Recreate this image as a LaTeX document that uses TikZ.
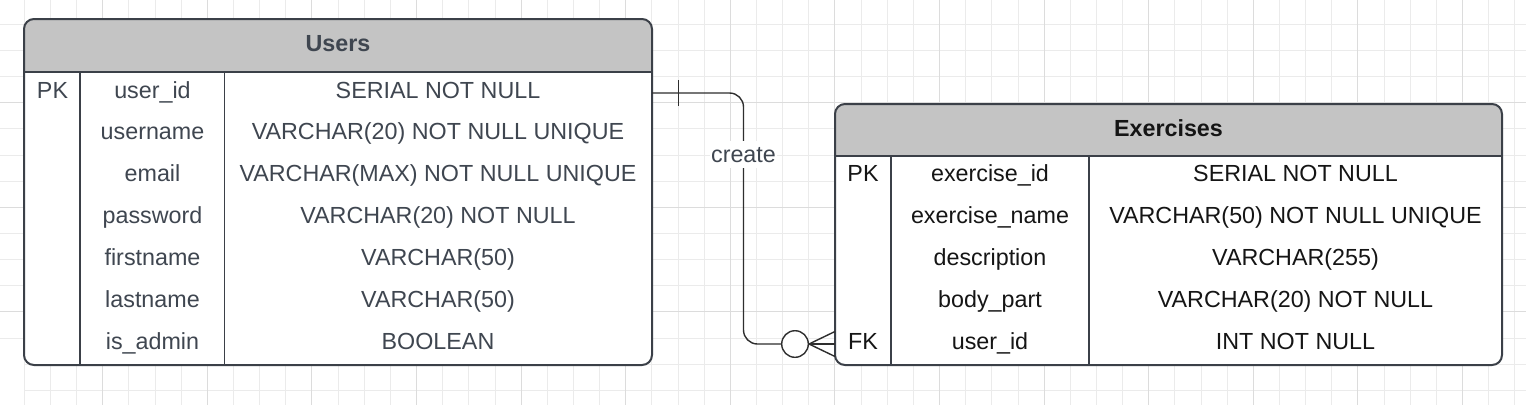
\documentclass[tikz,border=0pt]{standalone}
\usepackage{fontspec}
\setmainfont{Liberation Sans}
\definecolor{gridminor}{HTML}{EBEBEB}
\definecolor{gridmajor}{HTML}{DCDCDC}
\definecolor{hdrfill}{HTML}{C4C4C4}
\definecolor{framecol}{HTML}{3B4048}
\definecolor{utext}{HTML}{3F4650}
\definecolor{etext}{HTML}{151515}
\definecolor{conncol}{HTML}{2E2E2E}
\tikzset{
  tblframe/.style={draw=framecol, line width=2pt, rounded corners=10pt, fill=none, inner sep=0pt, outer sep=0pt, anchor=north west},
  innerline/.style={draw=framecol, line width=1.5pt},
  utxt/.style={text=utext, font=\fontsize{23.3}{28}\selectfont, anchor=base, inner sep=0pt},
  etxt/.style={text=etext, font=\fontsize{23.3}{28}\selectfont, anchor=base, inner sep=0pt},
  uhead/.style={utxt, font=\fontsize{23.3}{28}\selectfont\bfseries},
  ehead/.style={etxt, font=\fontsize{23.3}{28}\selectfont\bfseries},
  conn/.style={draw=conncol, line width=1.4pt},
  zerocirc/.style={circle, draw=conncol, line width=1.4pt, fill=white, minimum size=26.6pt, inner sep=0pt},
  rellabel/.style={text=utext, font=\fontsize{23.3}{28}\selectfont, fill=white, inner xsep=1pt, inner ysep=6pt}
}
\begin{document}
\begin{tikzpicture}[x=1pt,y=-1pt]
\useasboundingbox (0,0) rectangle (1526,405);
\fill[white] (0,0) rectangle (1526,405);
% grid
\foreach \k in {0,...,57} \draw[gridminor, line width=1pt] ({24.3+26.15*\k},0) -- ({24.3+26.15*\k},405);
\foreach \k in {0,...,12} \draw[gridminor, line width=1pt] (0,{24.3+26.15*\k}) -- (1526,{24.3+26.15*\k});
\foreach \k in {13,14} \draw[gridminor, line width=1pt] (24.3,{24.3+26.15*\k}) -- (1526,{24.3+26.15*\k});
\foreach \k in {3,7,...,55} \draw[gridmajor, line width=1pt] ({24.3+26.15*\k},0) -- ({24.3+26.15*\k},405);
\foreach \k in {3,7,11} \draw[gridmajor, line width=1pt] (0,{24.3+26.15*\k}) -- (1526,{24.3+26.15*\k});

% ---------- Users table ----------
\begin{scope}
\clip[rounded corners=10pt] (24,19) rectangle (652,365);
\fill[white] (24,19) rectangle (652,365);
\fill[hdrfill] (24,19) rectangle (652,72);
\end{scope}
\draw[innerline] (24,72) -- (652,72);
\draw[innerline] (80,72) -- (80,365);
\draw[innerline] (224.5,72) -- (224.5,365);
\node[tblframe, minimum width=628pt, minimum height=346pt] (users) at (24,19) {};

\node[uhead] (users-title) at (338,51.5) {Users};
\node[utxt] (u-pk) at (52.5,98) {PK};
\node[utxt] (u-n1) at (152.5,98) {user\_id};
\node[utxt] (u-t1) at (438,98) {SERIAL NOT NULL};
\node[utxt] (u-n2) at (152.5,139.9) {username};
\node[utxt] (u-t2) at (438,139.9) {VARCHAR(20) NOT NULL UNIQUE};
\node[utxt] (u-n3) at (152.5,181.8) {email};
\node[utxt] (u-t3) at (438,181.8) {VARCHAR(MAX) NOT NULL UNIQUE};
\node[utxt] (u-n4) at (152.5,223.7) {password};
\node[utxt] (u-t4) at (438,223.7) {VARCHAR(20) NOT NULL};
\node[utxt] (u-n5) at (152.5,265.6) {firstname};
\node[utxt] (u-t5) at (438,265.6) {VARCHAR(50)};
\node[utxt] (u-n6) at (152.5,307.5) {lastname};
\node[utxt] (u-t6) at (438,307.5) {VARCHAR(50)};
\node[utxt] (u-n7) at (152.5,349.4) {is\_admin};
\node[utxt] (u-t7) at (438,349.4) {BOOLEAN};

% ---------- Exercises table ----------
\begin{scope}
\clip[rounded corners=10pt] (835,104) rectangle (1502,365);
\fill[white] (835,104) rectangle (1502,365);
\fill[hdrfill] (835,104) rectangle (1502,156);
\end{scope}
\draw[innerline] (835,156) -- (1502,156);
\draw[innerline] (891,156) -- (891,365);
\draw[innerline] (1089,156) -- (1089,365);
\node[tblframe, minimum width=667pt, minimum height=261pt] (exercises) at (835,104) {};

\node[ehead] (ex-title) at (1168.5,136.5) {Exercises};
\node[etxt] (e-pk) at (863,181.8) {PK};
\node[etxt] (e-n1) at (990,181.8) {exercise\_id};
\node[etxt] (e-t1) at (1295.5,181.8) {SERIAL NOT NULL};
\node[etxt] (e-n2) at (990,223.7) {exercise\_name};
\node[etxt] (e-t2) at (1295.5,223.7) {VARCHAR(50) NOT NULL UNIQUE};
\node[etxt] (e-n3) at (990,265.6) {description};
\node[etxt] (e-t3) at (1295.5,265.6) {VARCHAR(255)};
\node[etxt] (e-n4) at (990,307.5) {body\_part};
\node[etxt] (e-t4) at (1295.5,307.5) {VARCHAR(20) NOT NULL};
\node[etxt] (e-fk) at (863,349.4) {FK};
\node[etxt] (e-n5) at (990,349.4) {user\_id};
\node[etxt] (e-t5) at (1295.5,349.4) {INT NOT NULL};

% ---------- relationship ----------
\coordinate (relstart) at (users.north east |- 0,93);
\coordinate (relend) at (exercises.north west |- 0,344);
\coordinate (bend) at (743.5,344);
\node[zerocirc] (zero) at (795,344) {};
\draw[conn, rounded corners=14pt] (relstart) -| (bend) -- (zero.west);
\coordinate (footU) at (835,331.5);
\coordinate (footL) at (835,356.5);
\draw[conn] (zero.east) -- (footU);
\draw[conn] (zero.east) -- (relend);
\draw[conn] (zero.east) -- (footL);
\coordinate (barT) at (678.7,80);
\coordinate (barB) at (678.7,106);
\draw[conn] (barT) -- (barB);
\node[rellabel, anchor=base] (createlbl) at (743.5,162) {create};
\end{tikzpicture}
\end{document}
